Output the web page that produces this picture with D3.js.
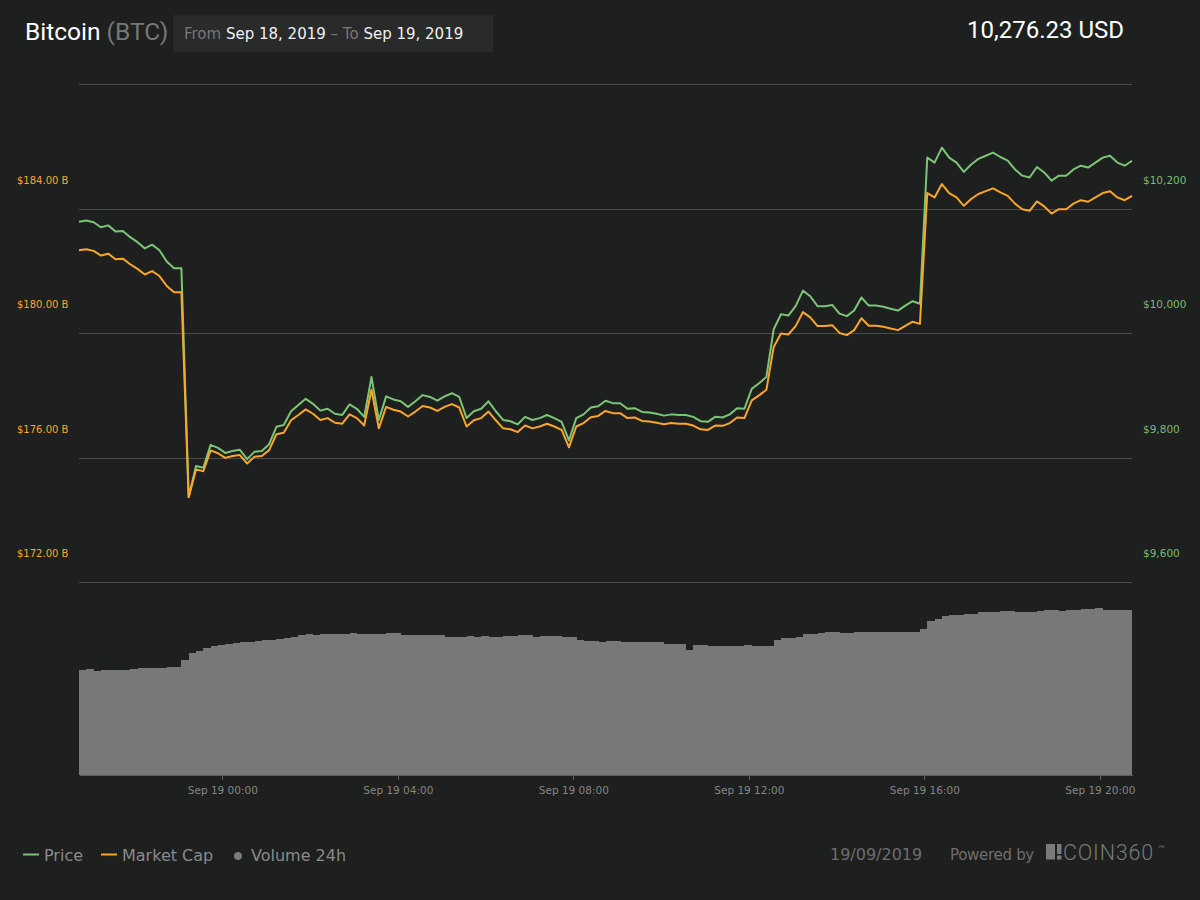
<!DOCTYPE html>
<html lang="en">
<head>
<meta charset="UTF-8">
<title>Bitcoin (BTC)</title>
<style>
    body {
        margin: 0;
        background: #1e1f1f;
    }

    svg {
        display: block;
    }

    text {
        font-family: "DejaVu Sans", sans-serif;
    }

    .roboto {
        font-family: Roboto, sans-serif;
    }

    .grid line {
        stroke: #4a4a4a;
        shape-rendering: crispEdges;
    }

    .x-axis path, .x-axis line {
        stroke: #5e5e5e;
        shape-rendering: crispEdges;
    }

    .x-axis text {
        fill: #858585;
        font-size: 10.5px;
        font-family: "DejaVu Sans", sans-serif;
    }

    .legend text {
        fill: #8a8a8a;
        font-size: 16px;
    }
</style>
</head>
<body>
<svg id="chart" width="1200" height="900"></svg>
<script src="https://cdn.jsdelivr.net/npm/d3@7"></script>
<script>

// 10 minute samples, Sep 18 20:44 UTC -> Sep 19 20:44 UTC
const startTime = Date.UTC(2019, 8, 18, 20, 44);
const stepMinutes = 10;

// price in USD
const prices = [
    10133, 10135, 10132, 10124, 10127, 10117, 10118, 10108, 10100, 10090,
    10096, 10087, 10069, 10058, 10058, 9690, 9740, 9737, 9774, 9769,
    9761, 9764, 9766, 9751, 9763, 9764, 9775, 9803, 9806, 9828,
    9838, 9848, 9840, 9829, 9832, 9824, 9822, 9839, 9832, 9819,
    9883, 9814, 9852, 9847, 9844, 9835, 9844, 9854, 9851, 9845,
    9852, 9857, 9851, 9817, 9828, 9832, 9844, 9828, 9814, 9812,
    9807, 9819, 9814, 9817, 9822, 9817, 9811, 9781, 9817, 9823,
    9834, 9836, 9845, 9841, 9841, 9832, 9833, 9827, 9826, 9824,
    9821, 9823, 9822, 9822, 9819, 9812, 9811, 9819, 9818, 9823,
    9833, 9832, 9864, 9873, 9883, 9960, 9984, 9982, 9997, 10022,
    10013, 9997, 9997, 9999, 9985, 9981, 9990, 10011, 9998, 9998,
    9996, 9993, 9990, 9998, 10005, 10001, 10236, 10228, 10252, 10236,
    10228, 10213, 10225, 10234, 10239, 10244, 10237, 10231, 10217, 10207,
    10204, 10221, 10212, 10199, 10207, 10207, 10217, 10223, 10220, 10228,
    10236, 10239, 10228, 10223, 10231
];

// market cap in billions USD
const marketCaps = [
    181.74, 181.77, 181.72, 181.57, 181.63, 181.45, 181.47, 181.29, 181.14, 180.96,
    181.07, 180.91, 180.59, 180.39, 180.39, 173.79, 174.69, 174.63, 175.30, 175.21,
    175.06, 175.12, 175.15, 174.88, 175.10, 175.12, 175.31, 175.82, 175.87, 176.27,
    176.44, 176.62, 176.48, 176.28, 176.34, 176.19, 176.16, 176.46, 176.34, 176.10,
    177.25, 176.01, 176.70, 176.61, 176.55, 176.39, 176.55, 176.73, 176.68, 176.57,
    176.70, 176.79, 176.68, 176.07, 176.27, 176.34, 176.55, 176.27, 176.01, 175.98,
    175.89, 176.10, 176.01, 176.07, 176.16, 176.07, 175.96, 175.40, 176.07, 176.18,
    176.37, 176.41, 176.57, 176.50, 176.50, 176.34, 176.36, 176.25, 176.23, 176.19,
    176.14, 176.18, 176.16, 176.16, 176.10, 175.98, 175.96, 176.10, 176.09, 176.18,
    176.36, 176.34, 176.91, 177.07, 177.25, 178.63, 179.06, 179.03, 179.30, 179.75,
    179.58, 179.30, 179.30, 179.33, 179.08, 179.01, 179.17, 179.55, 179.31, 179.31,
    179.28, 179.22, 179.17, 179.31, 179.44, 179.37, 183.58, 183.44, 183.87, 183.58,
    183.44, 183.17, 183.39, 183.55, 183.64, 183.73, 183.60, 183.49, 183.24, 183.06,
    183.01, 183.31, 183.15, 182.92, 183.06, 183.06, 183.24, 183.35, 183.30, 183.44,
    183.58, 183.64, 183.44, 183.35, 183.49
];

// 24h volume in billions USD, one bar per 10 minute interval
const volumes = [
    13.60, 13.73, 13.51, 13.60, 13.60, 13.60, 13.60, 13.73, 13.86, 13.86, 13.86, 13.86,
    13.99, 13.99, 14.90, 15.80, 16.10, 16.45, 16.77, 16.88, 16.97, 17.10, 17.23, 17.23,
    17.36, 17.49, 17.49, 17.62, 17.75, 17.88, 18.17, 18.26, 18.17, 18.26, 18.26, 18.26,
    18.26, 18.39, 18.30, 18.30, 18.30, 18.26, 18.39, 18.39, 18.17, 18.17, 18.17, 18.17,
    18.17, 18.13, 17.91, 17.91, 17.91, 18.01, 17.91, 18.01, 17.91, 17.91, 18.01, 18.01,
    18.13, 18.13, 17.91, 18.01, 18.01, 18.01, 17.91, 17.91, 17.49, 17.36, 17.36, 17.27,
    17.36, 17.36, 17.23, 17.23, 17.23, 17.23, 17.23, 17.23, 16.97, 16.97, 16.97, 16.19,
    16.90, 16.84, 16.71, 16.71, 16.71, 16.71, 16.71, 16.84, 16.71, 16.71, 16.71, 17.49,
    17.71, 17.79, 17.94, 18.23, 18.23, 18.35, 18.48, 18.48, 18.39, 18.35, 18.46, 18.48,
    18.48, 18.56, 18.48, 18.56, 18.56, 18.56, 18.56, 18.91, 19.95, 20.21, 20.60, 20.73,
    20.79, 20.85, 20.85, 21.05, 21.15, 21.15, 21.28, 21.28, 21.15, 21.15, 21.15, 21.28,
    21.37, 21.37, 21.28, 21.37, 21.37, 21.50, 21.50, 21.67, 21.41, 21.41, 21.41, 21.41
];

const priceTicks = [9600, 9800, 10000, 10200];
const capTicks = [172, 176, 180, 184];
const gridTicks = [0, 1, 2, 3, 4];

const greenColor = "#7cc576";
const orangeColor = "#f9a62b";

const times = prices.map((_, i) => new Date(startTime + i * stepMinutes * 60000));

const svg = d3.select("#chart");

const x = d3.scaleUtc()
    .domain([times[0], times[times.length - 1]])
    .range([79, 1132]);

const yPrice = d3.scaleLinear()
    .domain([9600, 10200])
    .range([553, 180]);

const yCap = d3.scaleLinear()
    .domain([172, 184])
    .range([553, 180]);

const yGrid = d3.scaleLinear()
    .domain([0, 4])
    .range([582, 84]);

const yVol = d3.scaleLinear()
    .domain([0, 25])
    .range([775, 582]);

// header
const title = svg.append("text")
    .attr("class", "roboto")
    .attr("x", 25)
    .attr("y", 40)
    .style("font-size", "24.5px");
title.append("tspan").attr("fill", "#ffffff").text("Bitcoin");
title.append("tspan").attr("fill", "#777777").text(" (BTC)");

svg.append("rect")
    .attr("x", 173)
    .attr("y", 15)
    .attr("width", 320)
    .attr("height", 37)
    .attr("rx", 2)
    .attr("fill", "#292a2a");

const range = svg.append("text")
    .attr("x", 184)
    .attr("y", 39)
    .style("font-size", "15px");
range.append("tspan").attr("fill", "#777777").text("From ");
range.append("tspan").attr("fill", "#f0f0f0").text("Sep 18, 2019");
range.append("tspan").attr("fill", "#777777").text(" \u2013 To ");
range.append("tspan").attr("fill", "#f0f0f0").text("Sep 19, 2019");

svg.append("text")
    .attr("class", "roboto")
    .attr("x", 1124)
    .attr("y", 38)
    .attr("text-anchor", "end")
    .attr("fill", "#ffffff")
    .style("font-size", "24px")
    .text("10,276.23 USD");

// grid
svg.append("g")
    .attr("class", "grid")
    .selectAll("line")
    .data(gridTicks)
    .join("line")
    .attr("x1", 79)
    .attr("x2", 1132)
    .attr("y1", d => Math.round(yGrid(d)) + 0.5)
    .attr("y2", d => Math.round(yGrid(d)) + 0.5);

// axis labels
svg.append("g")
    .selectAll("text")
    .data(capTicks)
    .join("text")
    .attr("x", 17)
    .attr("y", d => yCap(d) + 4)
    .attr("fill", orangeColor)
    .style("font-size", "10px")
    .text(d => `$${d.toFixed(2)} B`);

svg.append("g")
    .selectAll("text")
    .data(priceTicks)
    .join("text")
    .attr("x", 1143)
    .attr("y", d => yPrice(d) + 4)
    .attr("fill", "#77bd72")
    .style("font-size", "10.5px")
    .text(d => "$" + d3.format(",")(d));

// volume bars
svg.append("g")
    .selectAll("rect")
    .data(volumes)
    .join("rect")
    .attr("x", (d, i) => x(times[i]))
    .attr("width", (d, i) => x(times[i + 1]) - x(times[i]) + 0.4)
    .attr("y", d => yVol(d))
    .attr("height", d => yVol(0) - yVol(d))
    .attr("fill", "#787878")
    .attr("shape-rendering", "crispEdges");

// x axis
const xAxis = svg.append("g")
    .attr("class", "x-axis")
    .attr("transform", "translate(0,775)")
    .call(d3.axisBottom(x)
        .ticks(d3.utcHour.every(4))
        .tickFormat(d3.utcFormat("%b %d %H:%M"))
        .tickSize(5)
        .tickSizeOuter(0)
        .tickPadding(5));
xAxis.selectAll("text").attr("dy", "0.9em");

// lines
const priceLine = d3.line()
    .x((d, i) => x(times[i]))
    .y(d => yPrice(d));

const capLine = d3.line()
    .x((d, i) => x(times[i]))
    .y(d => yCap(d));

svg.append("path")
    .datum(prices)
    .attr("d", priceLine)
    .attr("fill", "none")
    .attr("stroke", greenColor)
    .attr("stroke-width", 2)
    .attr("stroke-linejoin", "round");

svg.append("path")
    .datum(marketCaps)
    .attr("d", capLine)
    .attr("fill", "none")
    .attr("stroke", orangeColor)
    .attr("stroke-width", 2)
    .attr("stroke-linejoin", "round");

// legend
const legend = svg.append("g").attr("class", "legend");

legend.append("line")
    .attr("x1", 23).attr("x2", 39)
    .attr("y1", 854.5).attr("y2", 854.5)
    .attr("stroke", greenColor)
    .attr("stroke-width", 2);
legend.append("text").attr("x", 44).attr("y", 861).text("Price");

legend.append("line")
    .attr("x1", 101).attr("x2", 117)
    .attr("y1", 854.5).attr("y2", 854.5)
    .attr("stroke", orangeColor)
    .attr("stroke-width", 2);
legend.append("text").attr("x", 122).attr("y", 861).text("Market Cap");

legend.append("circle")
    .attr("cx", 238)
    .attr("cy", 856)
    .attr("r", 4)
    .attr("fill", "#787878");
legend.append("text").attr("x", 251).attr("y", 861).text("Volume 24h");

// footer
svg.append("text")
    .attr("x", 830)
    .attr("y", 860)
    .attr("fill", "#6e6e6e")
    .style("font-size", "16px")
    .text("19/09/2019");

svg.append("text")
    .attr("x", 950)
    .attr("y", 860)
    .attr("fill", "#6e6e6e")
    .style("font-size", "15px")
    .style("letter-spacing", "-0.3px")
    .text("Powered by");

const logo = svg.append("g").attr("fill", "#7a7a7a");
logo.append("rect").attr("x", 1046).attr("y", 844).attr("width", 9).attr("height", 15.5);
logo.append("rect").attr("x", 1057).attr("y", 844).attr("width", 4.5).attr("height", 10);
logo.append("rect").attr("x", 1057).attr("y", 855.5).attr("width", 4.5).attr("height", 4);
logo.append("text")
    .attr("class", "roboto")
    .attr("x", 1063)
    .attr("y", 859.5)
    .style("font-size", "21.5px")
    .style("font-weight", 300)
    .style("letter-spacing", "0.8px")
    .text("COIN360");
logo.append("text")
    .attr("x", 1157)
    .attr("y", 852)
    .style("font-size", "9px")
    .text("\u2122");

</script>
</body>
</html>
